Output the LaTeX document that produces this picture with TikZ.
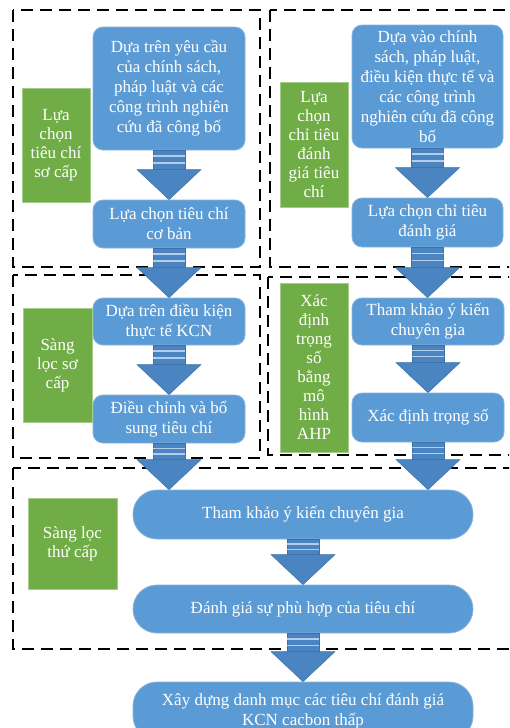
\documentclass[tikz,border=0pt]{standalone}
\usepackage{fontspec}
\setmainfont{Liberation Serif}
\usetikzlibrary{calc}
\definecolor{boxblue}{HTML}{5B9BD5}
\definecolor{boxedge}{HTML}{86B3E0}
\definecolor{arrblue}{HTML}{4A85C2}
\definecolor{arredge}{HTML}{3D70A6}
\definecolor{stripe}{HTML}{B4CDEA}
\definecolor{lblgreen}{HTML}{70AD47}
\definecolor{lbledge}{HTML}{A6CC8C}
\tikzset{
  stepbox/.style={rectangle, rounded corners=10pt, fill=boxblue, draw=boxedge,
    line width=0.8pt, text=white, align=center,
    font=\fontsize{17}{20}\selectfont, inner sep=1pt},
  widebox/.style={stepbox, rounded corners=24pt, minimum width=340pt},
  lblbox/.style={rectangle, fill=lblgreen, draw=lbledge, line width=0.8pt,
    text=white, align=center, font=\fontsize{17}{19}\selectfont, inner sep=1pt},
  dashframe/.style={draw=black, line width=2pt, dash pattern=on 12pt off 7pt},
  arrbody/.style={fill=arrblue, draw=arredge, line width=0.5pt},
  arrstripe/.style={draw=stripe, line width=1.4pt},
}
\newcommand{\blockarrow}[2]{%
  \coordinate (ba-s) at (#1.south);
  \coordinate (ba-t) at (#1.south |- #2.north);
  \coordinate (ba-b) at ($(ba-t)+(0,-30)$);
  \path[arrbody] ($(ba-s)+(-16,0)$) rectangle ($(ba-b)+(16,0)$);
  \path[arrstripe] ($($(ba-s)!0.3!(ba-b)$)+(-16,0)$) -- ($($(ba-s)!0.3!(ba-b)$)+(16,0)$);
  \path[arrstripe] ($($(ba-s)!0.66!(ba-b)$)+(-16,0)$) -- ($($(ba-s)!0.66!(ba-b)$)+(16,0)$);
  \path[arrbody] ($(ba-b)+(-32,0)$) -- ($(ba-b)+(32,0)$) -- (ba-t) -- cycle;
}
\begin{document}
\begin{tikzpicture}[x=1pt,y=-1pt]
\useasboundingbox (0,0) rectangle (509,728);
\clip (0,0) rectangle (509,728);
\fill[white] (0,0) rectangle (509,728);

% dashed frames
\draw[dashframe] (13,10) rectangle (260,267);
\draw[dashframe] (270,10) rectangle (520,267);
\draw[dashframe] (13,275) rectangle (260,458);
\draw[dashframe] (268,277) rectangle (520,455);
\draw[dashframe] (13,468) rectangle (520,649);

% left column
\node[stepbox, minimum width=152pt, minimum height=123pt] (L1) at (169,88.5)
  {Dựa trên yêu cầu\\của chính sách,\\pháp luật và các\\công trình nghiên\\cứu đã công bố};
\node[stepbox, minimum width=152pt, minimum height=48pt] (L2) at (169,224)
  {Lựa chọn tiêu chí\\cơ bản};
\node[stepbox, minimum width=152pt, minimum height=47pt] (L3) at (169,321.5)
  {Dựa trên điều kiện\\thực tế KCN};
\node[stepbox, minimum width=152pt, minimum height=48pt] (L4) at (169,419)
  {Điều chỉnh và bổ\\sung tiêu chí};

% right column
\node[stepbox, minimum width=151pt, minimum height=123pt] (R1) at (427.5,86.5)
  {Dựa vào chính\\sách, pháp luật,\\điều kiện thực tế và\\các công trình\\nghiên cứu đã công\\bố};
\node[stepbox, minimum width=151pt, minimum height=49pt] (R2) at (427.5,222.5)
  {Lựa chọn chỉ tiêu\\đánh giá};
\node[stepbox, minimum width=152pt, minimum height=47pt] (R3) at (428,321.5)
  {Tham khảo ý kiến\\chuyên gia};
\node[stepbox, minimum width=152pt, minimum height=49pt] (R4) at (428,417.5)
  {Xác định trọng số};

% bottom
\node[widebox, minimum height=49pt] (B1) at (303,514.5)
  {Tham khảo ý kiến chuyên gia};
\node[widebox, minimum height=48pt] (B2) at (303,609)
  {Đánh giá sự phù hợp của tiêu chí};
\node[widebox, minimum height=58pt] (B3) at (303,711)
  {Xây dựng danh mục các tiêu chí đánh giá\\KCN cacbon thấp};

% green labels
\node[lblbox, minimum width=68pt, minimum height=114pt] (G1) at (56,145)
  {Lựa\\chọn\\tiêu chí\\sơ cấp};
\node[lblbox, minimum width=69pt, minimum height=114pt] (G2) at (57.5,365)
  {Sàng\\lọc sơ\\cấp};
\node[lblbox, minimum width=89pt, minimum height=91pt] (G3) at (72.5,543.5)
  {Sàng lọc\\thứ cấp};
\node[lblbox, minimum width=68pt, minimum height=125pt] (GR1) at (314,144.5)
  {Lựa\\chọn\\chỉ tiêu\\đánh\\giá tiêu\\chí};
\node[lblbox, minimum width=68pt, minimum height=169pt] (GR2) at (314,367.5)
  {Xác\\định\\trọng\\số\\bằng\\mô\\hình\\AHP};

% block arrows
\blockarrow{L1}{L2}
\blockarrow{L2}{L3}
\blockarrow{L3}{L4}
\blockarrow{L4}{B1}
\blockarrow{R1}{R2}
\blockarrow{R2}{R3}
\blockarrow{R3}{R4}
\blockarrow{R4}{B1}
\blockarrow{B1}{B2}
\blockarrow{B2}{B3}
\end{tikzpicture}
\end{document}
